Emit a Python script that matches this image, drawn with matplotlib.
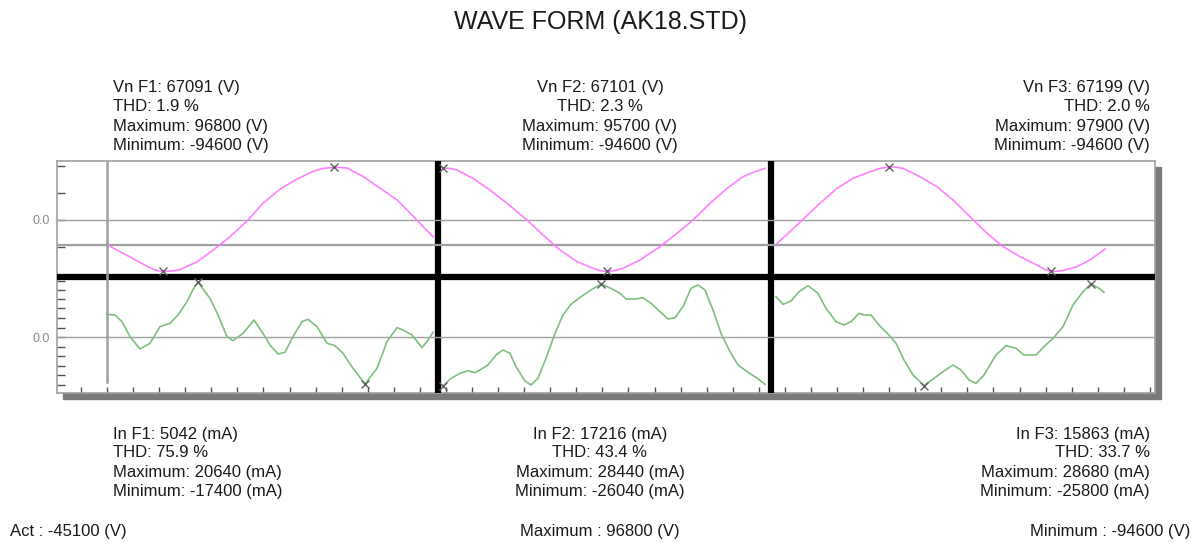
import numpy as np
import matplotlib.pyplot as plt
from matplotlib.patches import Rectangle

plt.rcParams['font.family'] = ['Liberation Sans', 'DejaVu Sans']

W, H = 1200, 543

title = "WAVE FORM (AK18.STD)"
phases = ["F1", "F2", "F3"]
vn = [67091, 67101, 67199]
v_thd = [1.9, 2.3, 2.0]
v_max = [96800, 95700, 97900]
v_min = [-94600, -94600, -94600]
in_rms = [5042, 17216, 15863]
i_thd = [75.9, 43.4, 33.7]
i_max = [20640, 28440, 28680]
i_min = [-17400, -26040, -25800]
act = -45100
footer_max = 96800
footer_min = -94600

# voltage traces (sample index, V)
v1_x = [0, 10, 23, 40, 48, 56, 65, 73, 90, 106, 123, 141, 156, 173, 190, 206, 216, 227, 234,
        240, 256, 273, 290, 306, 326]
v1_y = [-45100, -55500, -67900, -85200, -92000, -94600, -93800, -91300, -77100, -55500, -30900, 0,
        30900, 56800, 75300, 89500, 95000, 96800, 96600, 95600, 80200, 58600, 37000, 7400, -30900]
v2_x = [0, 8, 14, 30, 47, 64, 84, 100, 117, 134, 150, 157, 164, 171, 180, 197, 217, 234, 250,
        267, 284, 300, 312, 322]
v2_y = [95700, 94800, 92000, 76600, 55200, 30700, 0, -27600, -55200, -76600, -88900, -93000,
        -94600, -93300, -88900, -73600, -49000, -24500, 0, 30700, 58200, 79700, 89000, 95000]
v3_x = [0, 14, 27, 44, 61, 77, 94, 104, 113, 120, 127, 144, 161, 177, 194, 211, 227, 244, 261,
        268, 275, 281, 287, 301, 314, 329]
v3_y = [-44800, -21500, 1200, 30700, 58200, 76600, 88900, 95000, 97900, 97200, 95000, 79700,
        61300, 36800, 6100, -24500, -49000, -67400, -82800, -90500, -94600, -94300, -93000,
        -85800, -73600, -53300]

# current traces (sample index, mA)
i1_x = [0, 8, 15, 23, 33, 43, 53, 63, 71, 80, 86, 91, 96, 103, 111, 120, 126, 136, 147, 156, 163,
        171, 178, 186, 195, 201, 210, 220, 228, 236, 246, 258, 270, 280, 290, 296, 305, 315, 321, 326]
i1_y = [8570, 8320, 5830, 240, -4360, -2250, 3970, 5210, 8320, 13290, 17800, 20640, 18000, 14530,
        8320, 240, -1260, 1480, 6450, 1480, -2870, -6230, -5610, 240, 5830, 6700, 3970, -2250,
        -3120, -5980, -11570, -17400, -11570, -1630, 3590, 2720, 860, -3870, -1010, 1850]
i2_x = [0, 8, 17, 25, 32, 38, 45, 53, 60, 67, 73, 82, 88, 95, 103, 112, 120, 128, 138, 148, 158,
        168, 177, 183, 192, 200, 208, 217, 225, 232, 240, 248, 255, 262, 270, 278, 287, 295, 305, 313, 322]
i2_y = [-26040, -21950, -19280, -17850, -18920, -17140, -14820, -9470, -6790, -8580, -15710, -23380,
        -25500, -21950, -11250, 2120, 11930, 17640, 21740, 25310, 28440, 26200, 23520, 20490, 20490,
        21200, 18170, 13710, 9790, 10500, 16390, 26200, 27980, 25310, 14610, 2120, -7690, -14820,
        -18740, -21420, -25160]
i3_x = [0, 7, 15, 23, 32, 42, 50, 60, 68, 75, 83, 88, 95, 103, 113, 120, 128, 137, 148, 158, 167,
        177, 185, 193, 200, 208, 220, 230, 240, 248, 260, 268, 277, 287, 297, 307, 315, 323, 328]
i3_y = [21740, 17640, 19420, 24410, 27620, 23520, 15500, 8360, 6580, 8360, 12820, 11930, 11930, 6580,
        1230, -3230, -12140, -20170, -25800, -21950, -18390, -14820, -17490, -22840, -24630, -20170,
        -9470, -4480, -5900, -9470, -9470, -5010, -550, 5690, 17280, 24410, 28680, 26200, 24080]

v_traces = [(v1_x, v1_y), (v2_x, v2_y), (v3_x, v3_y)]
i_traces = [(i1_x, i1_y), (i2_x, i2_y), (i3_x, i3_y)]

# layout in pixels
frame_l, frame_r, frame_t, frame_b = 57, 1155, 161, 393
split_y = 277
cols = [(57, 438, 107), (438, 771, 443), (771, 1155, 776)]   # left, right, first sample
v_lim = (-104900, 108600)
i_lims = [(-20780, 22490), (-29800, 32260), (-29800, 32260)]

VCOL = '#ff80ff'
ICOL = '#7fbf7f'
GRID = '#a0a0a0'
MARK = '#606060'


def rect(x0, y0, x1, y1):
    return [x0 / W, 1 - y1 / H, (x1 - x0) / W, (y1 - y0) / H]


fig = plt.figure(figsize=(W / 100, H / 100), dpi=100)

# drop shadow
fig.patches.append(Rectangle(((frame_l + 6) / W, 1 - (frame_b + 6) / H),
                             (frame_r - frame_l) / W, (frame_b - frame_t) / H,
                             transform=fig.transFigure, color='#7a7a7a', zorder=-5))

frame = fig.add_axes(rect(frame_l, frame_t, frame_r, frame_b))
frame.set_xlim(frame_l, frame_r)
frame.set_ylim(frame_b, frame_t)
frame.set_facecolor('white')
for s in frame.spines.values():
    s.set_color(GRID)
    s.set_linewidth(1.2)
frame.set_xticks(np.arange(81, frame_r, 26.07))
frame.set_xticklabels([])
yt_upper = [166, 193, 220, 247]
yt_lower = [281, 290, 299, 308, 318, 328, 337, 347, 356, 366, 375, 385]
frame.set_yticks(yt_upper + yt_lower)
frame.set_yticklabels(['0.0' if t in (220, 337) else '' for t in yt_upper + yt_lower])
frame.tick_params(axis='x', direction='in', length=4.5, width=1, color='#505050')
frame.tick_params(axis='y', direction='in', length=6, width=1, color='#505050',
                  labelsize=9, labelcolor='#8a8a8a', pad=5)

# thick dividers
frame.axhline(split_y, color='black', lw=4.5, zorder=5)
for c in cols[1:]:
    frame.axvline(c[0], color='black', lw=4.5, zorder=5)

for k, (cl, cr, c0) in enumerate(cols):
    up = fig.add_axes(rect(cl, frame_t, cr, split_y))
    lo = fig.add_axes(rect(cl, split_y, cr, frame_b))
    for ax in (up, lo):
        ax.set_xlim(cl - c0, cr - c0)
        ax.axis('off')
        ax.patch.set_alpha(0)
    up.set_ylim(*v_lim)
    lo.set_ylim(*i_lims[k])

    up.axhline(0, color=GRID, lw=1)
    up.axhline(act, color=GRID, lw=1.6)
    lo.axhline(0, color=GRID, lw=1)

    vx, vy = v_traces[k]
    ix, iy = i_traces[k]
    up.plot(vx, vy, color=VCOL, lw=1.2, solid_joinstyle='round')
    lo.plot(ix, iy, color=ICOL, lw=1.2, solid_joinstyle='round')
    for ax, xs, ys in ((up, vx, vy), (lo, ix, iy)):
        for j in (int(np.argmax(ys)), int(np.argmin(ys))):
            ax.plot(xs[j], ys[j], marker='x', color=MARK, ms=6, mew=1, clip_on=False)

    if k == 0:
        up.axvline(0, color=GRID, lw=1.8)
        lo.axvline(0, ymin=0.095, color=GRID, lw=1.8)

# texts
def ftext(px, py, s, **kw):
    fig.text(px / W, 1 - py / H, s, color='#1a1a1a', va='baseline', **kw)

ftext(600, 29, title, fontsize=18, ha='center')

anchors = [(113, 'left'), (600, 'center'), (1150, 'right')]
top_base = [92, 111, 131, 150]
bot_base = [439, 457, 477, 496]
for k, (ax_x, ha) in enumerate(anchors):
    vlines = [f"Vn {phases[k]}: {vn[k]} (V)", f"THD: {v_thd[k]:.1f} %",
              f"Maximum: {v_max[k]} (V)", f"Minimum: {v_min[k]} (V)"]
    ilines = [f"In {phases[k]}: {in_rms[k]} (mA)", f"THD: {i_thd[k]:.1f} %",
              f"Maximum: {i_max[k]} (mA)", f"Minimum: {i_min[k]} (mA)"]
    for s, b in zip(vlines, top_base):
        ftext(ax_x, b, s, fontsize=12, ha=ha)
    for s, b in zip(ilines, bot_base):
        ftext(ax_x, b, s, fontsize=12, ha=ha)

ftext(10, 536, f"Act : {act} (V)", fontsize=12, ha='left')
ftext(600, 536, f"Maximum : {footer_max} (V)", fontsize=12, ha='center')
ftext(1190, 536, f"Minimum : {footer_min} (V)", fontsize=12, ha='right')

fig.savefig('out.png', dpi=100)
